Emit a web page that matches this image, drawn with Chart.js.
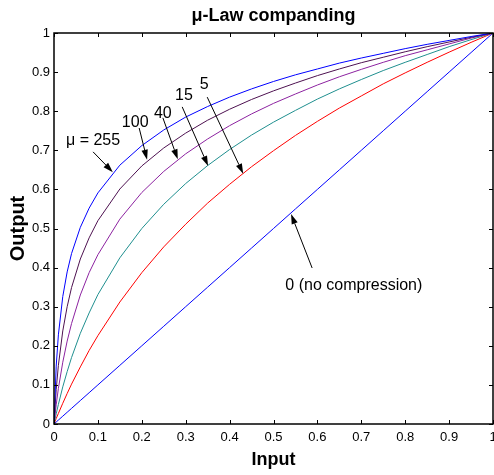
<!DOCTYPE html>
<html><head><meta charset="utf-8">
<script src="https://cdn.jsdelivr.net/npm/chart.js@4"></script>
<style>html,body{margin:0;padding:0;background:#fff}</style>
</head><body>
<canvas id="c" width="494" height="475"></canvas>
<script>
// ---- data ----
const inputX = [0,0.005,0.01,0.02,0.03,0.04,0.06,0.08,0.1,0.15,0.2,0.25,0.3,0.35,0.4,0.45,0.5,0.55,0.6,0.65,0.7,0.75,0.8,0.85,0.9,0.95,1];
const mu255 = [0,0.148,0.228,0.326,0.389,0.436,0.503,0.552,0.591,0.662,0.712,0.752,0.785,0.812,0.836,0.857,0.876,0.893,0.908,0.923,0.936,0.948,0.960,0.971,0.981,0.991,1];
const mu100 = [0,0.088,0.150,0.238,0.300,0.349,0.422,0.476,0.520,0.601,0.660,0.706,0.744,0.777,0.805,0.830,0.852,0.872,0.891,0.908,0.924,0.938,0.952,0.965,0.977,0.989,1];
const mu40  = [0,0.049,0.091,0.158,0.212,0.257,0.330,0.387,0.433,0.524,0.592,0.646,0.691,0.729,0.763,0.793,0.820,0.844,0.867,0.888,0.907,0.925,0.942,0.957,0.972,0.987,1];
const mu15  = [0,0.026,0.050,0.095,0.134,0.170,0.232,0.284,0.331,0.425,0.500,0.562,0.615,0.661,0.702,0.739,0.772,0.802,0.831,0.857,0.881,0.904,0.925,0.945,0.965,0.983,1];
const mu5   = [0,0.014,0.027,0.053,0.078,0.102,0.146,0.188,0.226,0.312,0.387,0.453,0.511,0.565,0.613,0.658,0.699,0.738,0.774,0.808,0.839,0.870,0.898,0.925,0.951,0.976,1];
const mu0   = [0,0.005,0.01,0.02,0.03,0.04,0.06,0.08,0.1,0.15,0.2,0.25,0.3,0.35,0.4,0.45,0.5,0.55,0.6,0.65,0.7,0.75,0.8,0.85,0.9,0.95,1];
const tickValues = [0,0.1,0.2,0.3,0.4,0.5,0.6,0.7,0.8,0.9,1];
const tickLabels = ['0','0.1','0.2','0.3','0.4','0.5','0.6','0.7','0.8','0.9','1'];
const seriesNames = ['\u03bc=255','\u03bc=100','\u03bc=40','\u03bc=15','\u03bc=5','\u03bc=0'];

// annotation labels: text, text position, arrow tail, arrow head (data coords)
const notes = [
  {text:'\u03bc = 255', tx:0.089, ty:0.726, ax:0.089, ay:0.696, hx:0.134, hy:0.644},
  {text:'100', tx:0.185, ty:0.772, ax:0.194, ay:0.757, hx:0.212, hy:0.676},
  {text:'40', tx:0.248, ty:0.795, ax:0.248, ay:0.783, hx:0.282, hy:0.677},
  {text:'15', tx:0.296, ty:0.841, ax:0.292, ay:0.811, hx:0.351, hy:0.660},
  {text:'5', tx:0.342, ty:0.867, ax:0.349, ay:0.836, hx:0.431, hy:0.640},
  {text:'0 (no compression)', tx:0.683, ty:0.355, ax:0.588, ay:0.399, hx:0.540, hy:0.537}
];

const FONT = "'Liberation Sans', Arial, sans-serif";
const colors = ['#0000ff','#4d1150','#8c22a0','#1f8f8f','#ff0000','#0000ff'];
const series = [mu255, mu100, mu40, mu15, mu5, mu0];

const datasets = series.map((ys, i) => ({
  label: seriesNames[i],
  data: inputX.map((x, j) => ({x, y: ys[j]})),
  borderColor: colors[i],
  borderWidth: 1,
  pointRadius: 0,
  tension: 0,
  fill: false
}));

const boxPlugin = {
  id: 'box',
  afterDatasetsDraw(chart) {
    const {ctx, chartArea: a, scales: {x, y}} = chart;
    ctx.save();
    ctx.strokeStyle = '#000';
    ctx.lineWidth = 1;
    ctx.beginPath();
    tickValues.forEach(v => {
      const px = Math.round(x.getPixelForValue(v)) + 0.5;
      ctx.moveTo(px, a.bottom); ctx.lineTo(px, a.bottom - 4);
      ctx.moveTo(px, a.top); ctx.lineTo(px, a.top + 4);
      const py = Math.round(y.getPixelForValue(v)) + 0.5;
      ctx.moveTo(a.left, py); ctx.lineTo(a.left + 4, py);
      ctx.moveTo(a.right, py); ctx.lineTo(a.right - 4, py);
    });
    ctx.stroke();
    ctx.lineWidth = 1.5;
    ctx.strokeRect(a.left, a.top, a.right - a.left, a.bottom - a.top);

    // annotations
    ctx.fillStyle = '#000';
    ctx.font = '16px ' + FONT;
    ctx.textAlign = 'center';
    ctx.textBaseline = 'middle';
    notes.forEach(n => {
      ctx.fillText(n.text, x.getPixelForValue(n.tx), y.getPixelForValue(n.ty));
      const x0 = x.getPixelForValue(n.ax), y0 = y.getPixelForValue(n.ay);
      const x1 = x.getPixelForValue(n.hx), y1 = y.getPixelForValue(n.hy);
      const ang = Math.atan2(y1 - y0, x1 - x0);
      const L = 10, W = 3.2;
      const bx = x1 - L * Math.cos(ang), by = y1 - L * Math.sin(ang);
      ctx.lineWidth = 1;
      ctx.beginPath(); ctx.moveTo(x0, y0); ctx.lineTo(bx, by); ctx.stroke();
      ctx.beginPath();
      ctx.moveTo(x1, y1);
      ctx.lineTo(bx + W * Math.sin(ang), by - W * Math.cos(ang));
      ctx.lineTo(bx - W * Math.sin(ang), by + W * Math.cos(ang));
      ctx.closePath(); ctx.fill();
    });
    ctx.restore();
  }
};

new Chart(document.getElementById('c'), {
  type: 'line',
  data: {datasets},
  plugins: [boxPlugin],
  options: {
    responsive: false,
    animation: false,
    events: [],
    layout: {padding: {left: 0, right: 1, top: 0, bottom: 0}},
    plugins: {
      legend: {display: false},
      tooltip: {enabled: false},
      title: {
        display: true,
        fullSize: false,
        text: '\u03bc-Law companding',
        color: '#000',
        font: {family: FONT, size: 18, weight: 'bold', lineHeight: 1.2},
        padding: {top: 5, bottom: 6.4}
      }
    },
    scales: {
      x: {
        type: 'linear', min: 0, max: 1,
        afterBuildTicks: s => { s.ticks = tickValues.map(v => ({value: v})); },
        afterFit: s => { s.height = 51; s.paddingLeft = 0; s.paddingRight = 0; },
        grid: {display: false, drawTicks: false},
        border: {display: false},
        ticks: {
          color: '#000', padding: 6, maxRotation: 0, autoSkip: false,
          font: {family: FONT, size: 13},
          callback: (v, i) => tickLabels[i]
        },
        title: {display: true, text: 'Input', color: '#000',
          font: {family: FONT, size: 18, weight: 'bold', lineHeight: 1.2},
          padding: {top: 0, bottom: 4.5}}
      },
      y: {
        type: 'linear', min: 0, max: 1,
        afterBuildTicks: s => { s.ticks = tickValues.map(v => ({value: v})); },
        afterFit: s => { s.width = 54; s.paddingTop = 0; s.paddingBottom = 0; },
        grid: {display: false, drawTicks: false},
        border: {display: false},
        ticks: {
          color: '#000', padding: 4, autoSkip: false,
          font: {family: FONT, size: 13},
          callback: (v, i) => tickLabels[i]
        },
        title: {display: true, text: 'Output', color: '#000',
          font: {family: FONT, size: 20, weight: 'bold', lineHeight: 1.2},
          padding: {top: 6.5, bottom: 0}}
      }
    }
  }
});
</script>
</body></html>
